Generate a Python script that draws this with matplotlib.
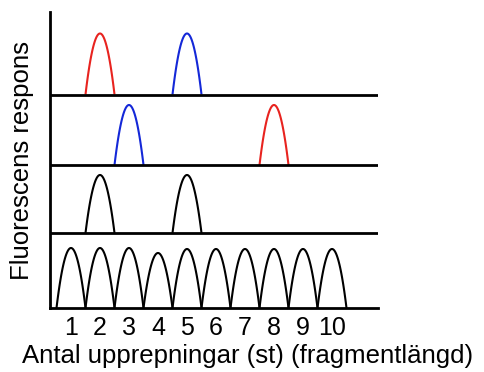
import numpy as np
import matplotlib.pyplot as plt

plt.rcParams['font.family'] = ['Liberation Sans', 'DejaVu Sans']

# peak positions (number of repeats) and heights per lane, top lane first
top_pos = [2, 5]
top_colors = ['#e8231f', '#1428d8']
top_heights = [61, 61]

mid_pos = [3, 8]
mid_colors = ['#1428d8', '#e8231f']
mid_heights = [60, 60]

ctrl_pos = [2, 5]
ctrl_heights = [58, 58]

ladder_pos = [1, 2, 3, 4, 5, 6, 7, 8, 9, 10]
ladder_heights = [60, 60, 60, 55, 59, 59, 59, 59, 59, 59]

tick_labels = ['1', '2', '3', '4', '5', '6', '7', '8', '9', '10']
xlabel = 'Antal upprepningar (st) (fragmentlängd)'
ylabel = 'Fluorescens respons'


def peak(ax, center, height, base, color):
    """Draw one arch shaped peak sitting on a baseline."""
    x = np.linspace(center - 0.5, center + 0.5, 80)
    y = base + height * (1 - np.abs((x - center) / 0.5) ** 2.0)
    ax.plot(x, y, color=color, lw=1.5, solid_capstyle='butt')


W, H = 484, 372
fig = plt.figure(figsize=(W / 100, H / 100), dpi=100)

# axes box in pixels: left 49.5, right 378, top 12, bottom 308
left, right, top, bottom = 49.5, 378, 12, 308
ax = fig.add_axes([left / W, (H - bottom) / H, (right - left) / W, (bottom - top) / H])

unit = 29.0
x0 = 1 - (71 - left) / unit
x1 = 1 + (right - 71) / unit
ax.set_xlim(x0, x1)
ax.set_ylim(0, bottom - top)

# lane baselines in pixels above the bottom axis
bases = [bottom - 94.5, bottom - 165, bottom - 233, 0]

for p, c, h in zip(top_pos, top_colors, top_heights):
    peak(ax, p, h, bases[0], c)
for p, c, h in zip(mid_pos, mid_colors, mid_heights):
    peak(ax, p, h, bases[1], c)
for p, h in zip(ctrl_pos, ctrl_heights):
    peak(ax, p, h, bases[2], 'black')
for p, h in zip(ladder_pos, ladder_heights):
    peak(ax, p, h, bases[3], 'black')

for b in bases[:3]:
    ax.axhline(b, color='black', lw=2.0)

for s in ['top', 'right']:
    ax.spines[s].set_visible(False)
ax.spines['left'].set_linewidth(2.0)
ax.spines['bottom'].set_linewidth(2.0)
ax.set_yticks([])
ax.set_xticks(ladder_pos)
ax.set_xticklabels(tick_labels, fontsize=18)
ax.tick_params(axis='x', length=0, pad=6)

fig.text(248 / W, 1 - 363 / H, xlabel, fontsize=18.5, ha='center', va='baseline')
fig.text(22 / W, 1 - 161 / H, ylabel, fontsize=18.5, ha='center', va='center',
         rotation=90)

fig.savefig('out.png', dpi=100)
